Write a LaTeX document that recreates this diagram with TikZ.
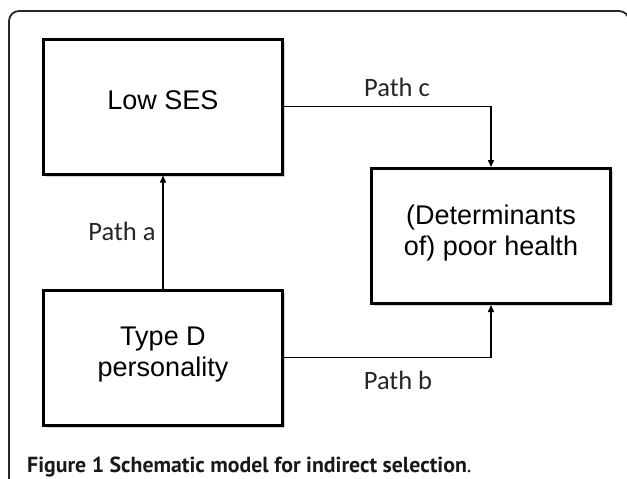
\documentclass[tikz,border=0pt]{standalone}
\usepackage{fontspec}
\setmainfont{Liberation Sans}
\newfontfamily\pathfont{Carlito}
\newfontfamily\capfont{PT Sans}
\usetikzlibrary{arrows.meta,shadows}
\tikzset{
    box/.style={draw, line width=3pt, fill=white, minimum width=239pt, minimum height=135pt,
        align=center, text depth=12pt, font=\fontsize{27}{31}\selectfont,
        drop shadow={shadow xshift=2.5pt, shadow yshift=-2.5pt, opacity=0.35}},
    pathlabel/.style={text=black!85, font=\pathfont\fontsize{26.5}{30}\selectfont},
    conn/.style={line width=1.5pt, -{Triangle[length=7pt,width=6pt]}}
}
\begin{document}
\begin{tikzpicture}[x=1pt, y=-1pt]
        \useasboundingbox (0,0) rectangle (627,479);
        \draw [line width=1.8pt, black!85, rounded corners=10pt] (9,500) -- (9,11) -- (629,11) -- (629,500);
        \node[box] (lowses) at (163,106.5) {Low SES};
        \node[box] (health) at (491,236) {(Determinants\\of) poor health};
        \node[box] (typed) at (163,357.5) {Type D\\personality};
        \draw [conn] (lowses.east) -| (health.north);
        \draw [conn] (typed.north) -- (lowses.south);
        \draw [conn] (typed.east) -| (health.south);
        \node[pathlabel] (pathc) at (397,87) {Path c};
        \node[pathlabel] (patha) at (122,231) {Path a};
        \node[pathlabel] (pathb) at (398,380) {Path b};
        \node[anchor=base west, inner sep=0pt, text=black!90, font=\capfont\fontsize{21.8}{24}\selectfont] (caption) at (27,472) {\textbf{Figure 1 Schematic model for indirect selection}.};
    \end{tikzpicture}
\end{document}
